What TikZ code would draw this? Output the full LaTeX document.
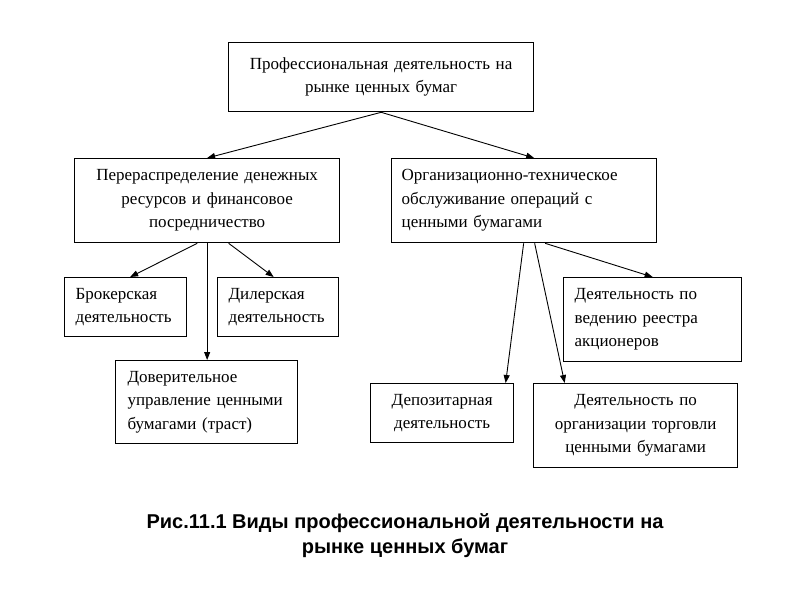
\documentclass[tikz,border=0pt]{standalone}
\usepackage{fontspec}
\setmainfont{Liberation Serif}
\newfontfamily\capfont{Liberation Sans}
\usetikzlibrary{arrows.meta}
\begin{document}
\begin{tikzpicture}[x=1pt,y=-1pt,
  box/.style={draw, line width=1.3pt, anchor=north west, inner sep=0pt,
    font=\fontsize{17}{23.5}\selectfont},
  arr/.style={line width=0.9pt, -{Triangle[length=8pt,width=6pt]}},
  ln/.style={line width=0.9pt}]
\useasboundingbox (0,0) rectangle (800,600);
\node[box, minimum width=305pt, minimum height=69pt, text width=285pt, align=center] (top) at (228,42)
  {Профессиональная деятельность на\\рынке ценных бумаг};
\node[box, minimum width=265pt, minimum height=84pt, text width=249pt, align=center] (lm) at (74,158)
  {Перераспределение денежных\\ресурсов и финансовое\\посредничество};
\node[box, minimum width=265pt, minimum height=84pt, text width=245pt, align=left] (rm) at (391,158)
  {Организационно-техническое\\обслуживание операций с\\ценными бумагами};
\node[box, minimum width=122pt, minimum height=59pt, text width=100pt, align=left] (bro) at (64,277)
  {Брокерская\\деятельность};
\node[box, minimum width=121pt, minimum height=59pt, text width=99pt, align=left] (dea) at (217,277)
  {Дилерская\\деятельность};
\node[box, minimum width=182pt, minimum height=83pt, text width=158pt, align=left] (tru) at (115,360)
  {Доверительное\\управление ценными\\бумагами (траст)};
\node[box, minimum width=178pt, minimum height=84pt, text width=156pt, align=left] (reg) at (563,277)
  {Деятельность по\\ведению реестра\\акционеров};
\node[box, minimum width=143pt, minimum height=59pt, text width=130pt, align=center] (dep) at (370,383)
  {Депозитарная\\деятельность};
\node[box, minimum width=204pt, minimum height=84pt, text width=190pt, align=center] (trd) at (533,383)
  {Деятельность по\\организации торговли\\ценными бумагами};
\draw[arr] (top.south) -- (lm.north);
\draw[arr] (top.south) -- ([xshift=10pt]rm.north);
\draw[arr] ([xshift=-10pt]lm.south) -- ([xshift=4.5pt]bro.north);
\draw[arr] ([xshift=21.5pt]lm.south) -- ([xshift=-4.5pt]dea.north);
\draw[arr] (lm.south) -- (lm.south |- tru.north);
\draw[arr] ([xshift=21pt]rm.south) -- (reg.north);
\draw[arr] ([xshift=-0.5pt]rm.south) -- ([xshift=63.5pt]dep.north);
\draw[arr] ([xshift=10.5pt]rm.south) -- ([xshift=-71pt]trd.north);
\node[font=\capfont\bfseries\fontsize{20}{25}\selectfont, align=center] (cap) at (405,536)
  {Рис.11.1 Виды профессиональной деятельности на\\рынке ценных бумаг};
\end{tikzpicture}
\end{document}
